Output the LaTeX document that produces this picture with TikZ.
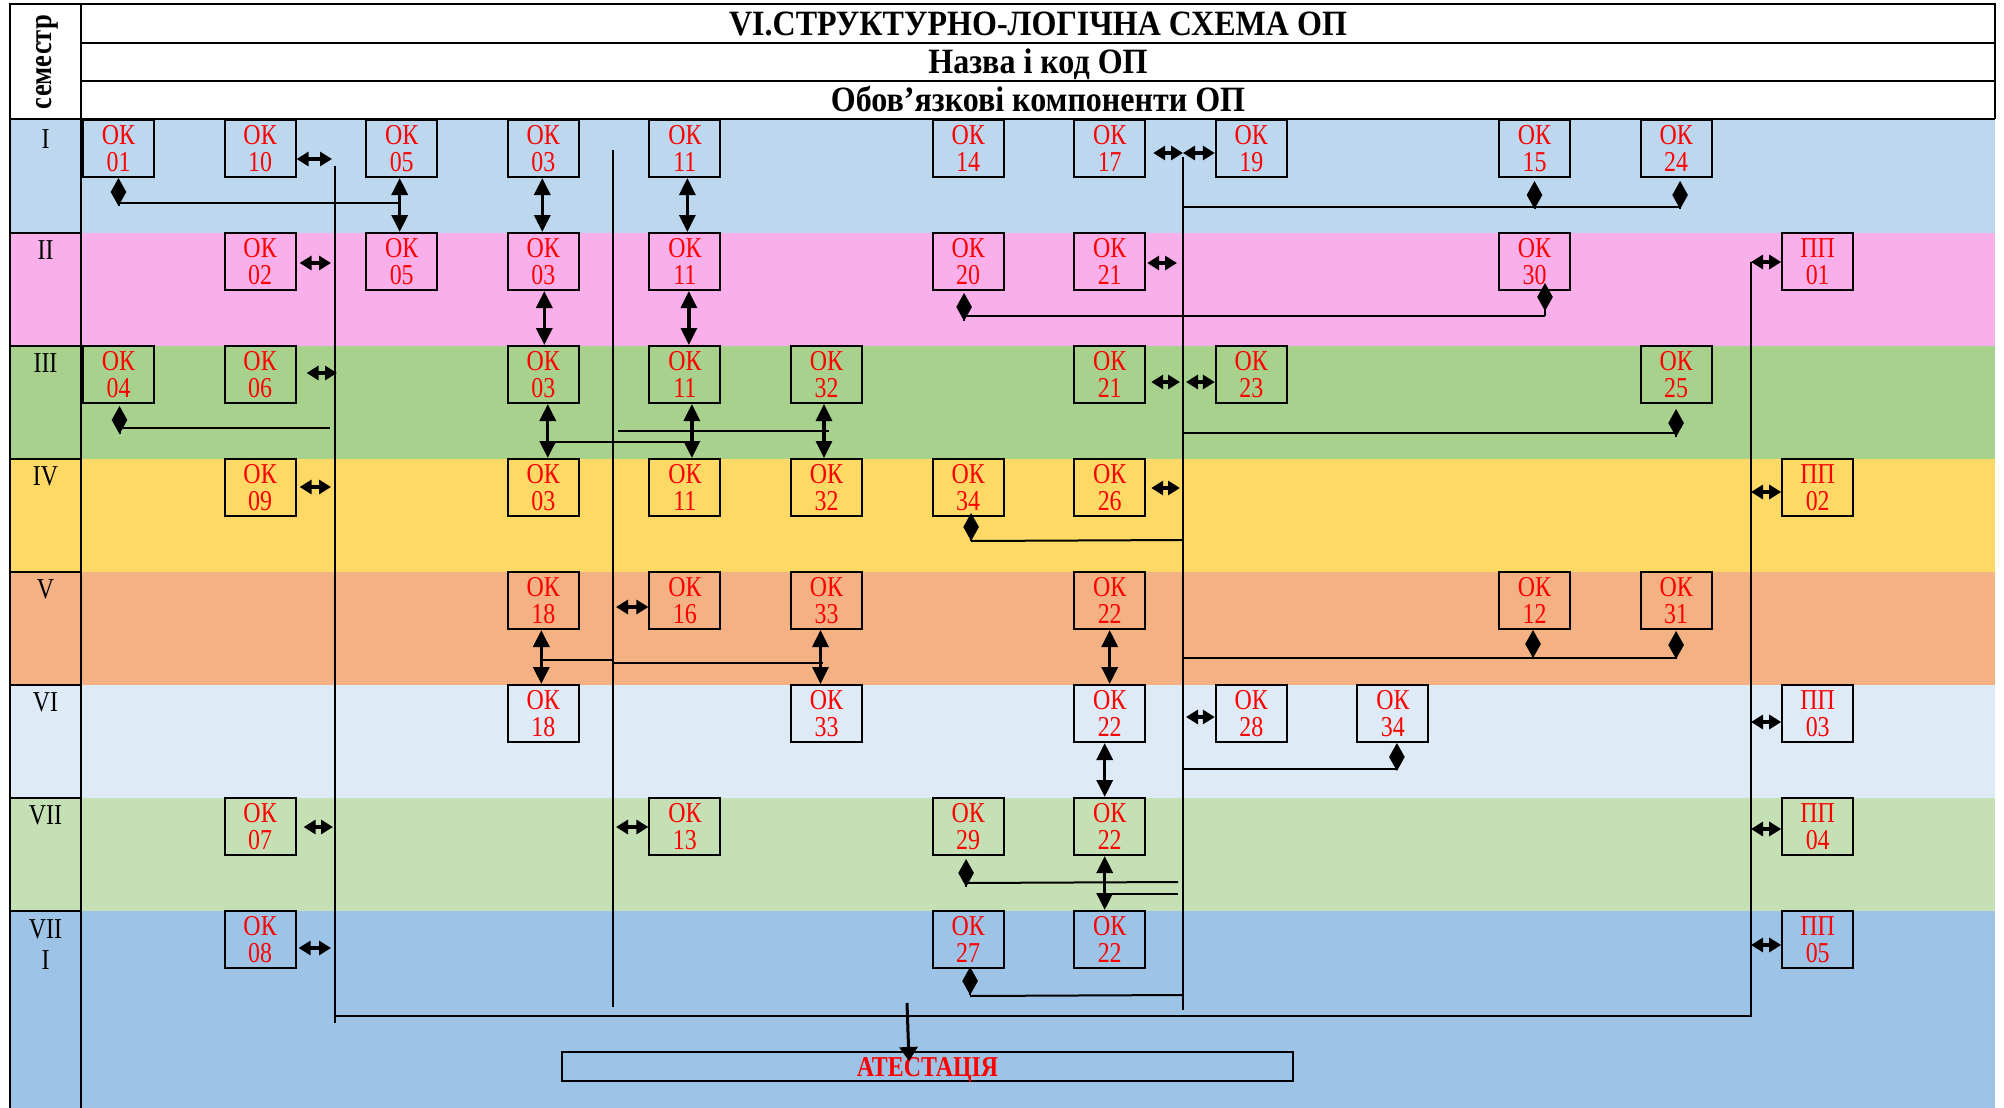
\documentclass[tikz,border=0pt]{standalone}
\usepackage{fontspec}
\setmainfont{Liberation Serif}
\newfontfamily\tallfont{Liberation Serif}[FakeStretch=0.83]
\newfontfamily\headfont{Liberation Serif}[FakeStretch=0.9]
\usetikzlibrary{arrows.meta,calc}
\definecolor{cI}{RGB}{189,215,238}
\definecolor{cII}{RGB}{249,176,234}
\definecolor{cIII}{RGB}{169,209,142}
\definecolor{cIV}{RGB}{255,217,102}
\definecolor{cV}{RGB}{244,177,131}
\definecolor{cVI}{RGB}{222,235,247}
\definecolor{cVII}{RGB}{197,224,180}
\definecolor{cVIII}{RGB}{157,195,230}
\newcommand\bx[3]{\node[box] (b#1-#2) at ({118.5+141.6*#2},{148.5+113*(#1-1)}) {#3};}
\newcommand\vconn[3]{\draw[varr] ($(#1.south)+(#3,0)$) -- ($(#2.north)+(#3,0)$);}
\begin{document}
\begin{tikzpicture}[x=0.5pt,y=-0.5pt,
  box/.style={draw=black,line width=1pt,minimum width=35.5pt,minimum height=28.5pt,inner sep=0pt,align=center,text=red,font=\tallfont\fontsize{14.4}{13.5}\selectfont},
  sem/.style={anchor=base,font=\tallfont\fontsize{14.4}{14}\selectfont},
  frame/.style={line width=1pt},
  vline/.style={line width=0.75pt},
  hline/.style={line width=1pt},
  dia/.style={line width=1pt,-{Diamond[length=14pt,width=7.8pt]}},
  varr/.style={line width=1.6pt,{Triangle[length=8.5pt,width=8pt]}-{Triangle[length=8.5pt,width=8pt]}},
  harr/.style={line width=1.6pt,{Triangle[length=6pt,width=7pt]}-{Triangle[length=6pt,width=7pt]}},
  head/.style={font=\headfont\bfseries\fontsize{17.8}{20}\selectfont,anchor=base}]
\useasboundingbox (0,0) rectangle (2004,1108);
% bands
\fill[cI] (10,119) rectangle (1995,233);
\fill[cII] (10,233) rectangle (1995,346);
\fill[cIII] (10,346) rectangle (1995,459);
\fill[cIV] (10,459) rectangle (1995,572);
\fill[cV] (10,572) rectangle (1995,685);
\fill[cVI] (10,685) rectangle (1995,798);
\fill[cVII] (10,798) rectangle (1995,911);
\fill[cVIII] (10,911) rectangle (1995,1108);
% frame
\draw[frame] (10,1108) -- (10,4) -- (1995,4) -- (1995,119);
\draw[frame] (81,4) -- (81,1108);
\draw[frame] (81,43) -- (1995,43);
\draw[frame] (81,81) -- (1995,81);
\draw[line width=1.3pt] (10,119) -- (1995,119);
\foreach \r in {2,...,8} \draw[frame] (10,{120+113*(\r-1)}) -- (81,{120+113*(\r-1)});
% header texts
\node[head] (title) at (1038,35) {VI.СТРУКТУРНО-ЛОГІЧНА СХЕМА ОП};
\node[head] (name) at (1038,73) {Назва і код ОП};
\node[head] (comp) at (1038,111) {Обов’язкові компоненти ОП};
\node[rotate=90,font=\tallfont\bfseries\fontsize{16}{18}\selectfont] (semh) at (47,62) {семестр};
% semester labels
\node[sem] (s1) at (45.5,148) {I};
\node[sem] (s2) at (45.5,259) {II};
\node[sem] (s3) at (45.5,372) {III};
\node[sem] (s4) at (45.5,485) {IV};
\node[sem] (s5) at (45.5,598) {V};
\node[sem] (s6) at (45.5,711) {VI};
\node[sem] (s7) at (45.5,824) {VII};
\node[sem] (s8a) at (45.5,938) {VII};
\node[sem] (s8b) at (45.5,969) {I};
% boxes
\bx{1}{0}{ОК\\01} \bx{1}{1}{ОК\\10} \bx{1}{2}{ОК\\05} \bx{1}{3}{ОК\\03} \bx{1}{4}{ОК\\11}
\bx{1}{6}{ОК\\14} \bx{1}{7}{ОК\\17} \bx{1}{8}{ОК\\19} \bx{1}{10}{ОК\\15} \bx{1}{11}{ОК\\24}
\bx{2}{1}{ОК\\02} \bx{2}{2}{ОК\\05} \bx{2}{3}{ОК\\03} \bx{2}{4}{ОК\\11} \bx{2}{6}{ОК\\20}
\bx{2}{7}{ОК\\21} \bx{2}{10}{ОК\\30} \bx{2}{12}{ПП\\01}
\bx{3}{0}{ОК\\04} \bx{3}{1}{ОК\\06} \bx{3}{3}{ОК\\03} \bx{3}{4}{ОК\\11} \bx{3}{5}{ОК\\32}
\bx{3}{7}{ОК\\21} \bx{3}{8}{ОК\\23} \bx{3}{11}{ОК\\25}
\bx{4}{1}{ОК\\09} \bx{4}{3}{ОК\\03} \bx{4}{4}{ОК\\11} \bx{4}{5}{ОК\\32} \bx{4}{6}{ОК\\34}
\bx{4}{7}{ОК\\26} \bx{4}{12}{ПП\\02}
\bx{5}{3}{ОК\\18} \bx{5}{4}{ОК\\16} \bx{5}{5}{ОК\\33} \bx{5}{7}{ОК\\22} \bx{5}{10}{ОК\\12} \bx{5}{11}{ОК\\31}
\bx{6}{3}{ОК\\18} \bx{6}{5}{ОК\\33} \bx{6}{7}{ОК\\22} \bx{6}{8}{ОК\\28} \bx{6}{9}{ОК\\34} \bx{6}{12}{ПП\\03}
\bx{7}{1}{ОК\\07} \bx{7}{4}{ОК\\13} \bx{7}{6}{ОК\\29} \bx{7}{7}{ОК\\22} \bx{7}{12}{ПП\\04}
\bx{8}{1}{ОК\\08} \bx{8}{6}{ОК\\27} \bx{8}{7}{ОК\\22} \bx{8}{12}{ПП\\05}
\node[draw,line width=1pt,minimum width=365.5pt,minimum height=14.5pt,inner sep=0pt,text depth=0pt,text=red,font=\tallfont\bfseries\fontsize{14.4}{16}\selectfont] (atest) at (927.5,1066.5) {АТЕСТАЦІЯ};
% long lines
\coordinate (L1t) at (335,166); \coordinate (L1b) at (335,1023);
\coordinate (L2t) at (613,150); \coordinate (L2b) at (613,1007);
\coordinate (L3t) at (1183,157); \coordinate (L3b) at (1183,1010);
\coordinate (Rt) at (1751,262); \coordinate (Rb) at (1751,1016);
\coordinate (Bl) at (335,1016);
\draw[vline] (L1t) -- (L1b);
\draw[vline] (L2t) -- (L2b);
\draw[vline] (L3t) -- (L3b);
\draw[vline] (Bl) -- (Rb) -- (Rt);
% short double arrows
\draw[harr] (b1-1.east |- 0,159) -- ($(L1t |- 0,159)+(-3,0)$);
\draw[harr] ($(b2-1.east |- 0,263)+(3,0)$) -- ($(L1t |- 0,263)+(-4,0)$);
\draw[harr] ($(b3-1.east |- 0,373)+(10,0)$) -- ($(L1t |- 0,373)+(2,0)$);
\draw[harr] ($(b4-1.east |- 0,487)+(3,0)$) -- ($(L1t |- 0,487)+(-4,0)$);
\draw[harr] ($(b7-1.east |- 0,827)+(7,0)$) -- ($(L1t |- 0,827)+(-2,0)$);
\draw[harr] ($(b8-1.east |- 0,948)+(2,0)$) -- ($(L1t |- 0,948)+(-4,0)$);
\draw[harr] ($(L2t |- 0,607)+(3,0)$) -- (b5-4.west |- 0,607);
\draw[harr] ($(L2t |- 0,827)+(3,0)$) -- (b7-4.west |- 0,827);
\draw[harr] ($(b1-7.east |- 0,153)+(7,0)$) -- (L3t |- 0,153);
\draw[harr] (L3t |- 0,153) -- (b1-8.west |- 0,153);
\draw[harr] ($(b2-7.east |- 0,263)+(1,0)$) -- ($(L3t |- 0,263)+(-6,0)$);
\draw[harr] ($(b3-7.east |- 0,382)+(5,0)$) -- ($(L3t |- 0,382)+(-3,0)$);
\draw[harr] ($(L3t |- 0,382)+(3,0)$) -- (b3-8.west |- 0,382);
\draw[harr] ($(b4-7.east |- 0,488)+(5,0)$) -- ($(L3t |- 0,488)+(-3,0)$);
\draw[harr] ($(L3t |- 0,717)+(3,0)$) -- (b6-8.west |- 0,717);
\draw[harr] (Rt |- 0,262) -- (b2-12.west |- 0,262);
\draw[harr] (Rt |- 0,492) -- (b4-12.west |- 0,492);
\draw[harr] (Rt |- 0,722) -- (b6-12.west |- 0,722);
\draw[harr] (Rt |- 0,829) -- (b7-12.west |- 0,829);
\draw[harr] (Rt |- 0,945) -- (b8-12.west |- 0,945);
% vertical double arrows
\vconn{b1-2}{b2-2}{-2}
\vconn{b1-3}{b2-3}{-1}
\vconn{b1-4}{b2-4}{2.5}
\vconn{b2-3}{b3-3}{1}
\vconn{b2-4}{b3-4}{4}
\vconn{b3-3}{b4-3}{4.5}
\vconn{b3-4}{b4-4}{7}
\vconn{b3-5}{b4-5}{-2.5}
\vconn{b5-3}{b6-3}{-2}
\vconn{b5-5}{b6-5}{-6}
\vconn{b5-7}{b6-7}{0}
\vconn{b6-7}{b7-7}{-5}
\vconn{b7-7}{b8-7}{-5}
% diamond connectors
\coordinate (j1) at ($(b1-2.south)+(-2,25)$);
\draw[hline] (j1) -- (j1 -| b1-0.south);
\draw[dia] ($(b1-0.south)+(0,28)$) -- (b1-0.south);
\draw[hline] (L3t |- 0,207) -- ($(b1-11.south |- 0,207)+(4,0)$);
\draw[dia] ($(b1-10.south)+(0,31)$) -- ($(b1-10.south)+(0,3)$);
\draw[dia] ($(b1-11.south)+(4,31)$) -- ($(b1-11.south)+(4,3)$);
\draw[hline] ($(b2-6.south |- 0,316)+(-4,0)$) -- ($(b2-10.south |- 0,316)+(10.5,0)$);
\draw[dia] ($(b2-6.south)+(-4,30)$) -- ($(b2-6.south)+(-4,2)$);
\draw[dia] ($(b2-10.south |- 0,316)+(10.5,0)$) -- ($(b2-10.south)+(10.5,-8)$);
\draw[hline] (b3-0.south |- 0,428) -- ($(L1t |- 0,428)+(-5,0)$);
\draw[dia] ($(b3-0.south)+(1,30)$) -- ($(b3-0.south)+(1,2)$);
\draw[hline] (L3t |- 0,433) -- (b3-11.south |- 0,433);
\draw[dia] ($(b3-11.south)+(0,33)$) -- ($(b3-11.south)+(0,5)$);
\draw[vline] ($(L2t |- 0,431)+(5,0)$) -- ($(b3-5.south |- 0,431)+(2,0)$);
\draw[vline] ($(b3-3.south |- 0,442)+(-1,0)$) -- ($(b3-4.south |- 0,442)+(12,0)$);
\draw[hline] ($(b4-6.south)+(3,24)$) -- (L3t |- 0,540);
\draw[dia] ($(b4-6.south)+(3,24)$) -- ($(b4-6.south)+(3,-4)$);
\draw[vline] ($(b5-3.south |- 0,660)+(-1,0)$) -- (L2t |- 0,660);
\draw[vline] (L2t |- 0,663) -- ($(b5-5.south |- 0,663)+(-4,0)$);
\draw[hline] (L3t |- 0,658) -- (b5-11.south |- 0,658);
\draw[dia] ($(b5-10.south)+(-1.5,28)$) -- ($(b5-10.south)+(-1.5,0)$);
\draw[dia] ($(b5-11.south)+(0,29)$) -- ($(b5-11.south)+(0,1)$);
\draw[hline] (L3t |- 0,769) -- ($(b6-9.south |- 0,769)+(4,0)$);
\draw[dia] ($(b6-9.south)+(4,27)$) -- ($(b6-9.south)+(4,0)$);
\draw[hline] ($(b7-6.south)+(-2,27)$) -- ($(L3t |- 0,882)+(-5,0)$);
\draw[dia] ($(b7-6.south)+(-2,31)$) -- ($(b7-6.south)+(-2,3)$);
\draw[vline] ($(b7-7.south |- 0,894)+(-5,0)$) -- ($(L3t |- 0,894)+(-5,0)$);
\draw[hline] ($(b8-6.south)+(2,27)$) -- (L3t |- 0,995);
\draw[dia] ($(b8-6.south)+(2,26)$) -- ($(b8-6.south)+(2,-2)$);
% to attestation
\coordinate (a0) at (907,1003);
\draw[line width=1.5pt,-{Triangle[length=7pt,width=9pt]}] (a0) -- ($(atest.north)+(-18.5,10)$);
\end{tikzpicture}
\end{document}
